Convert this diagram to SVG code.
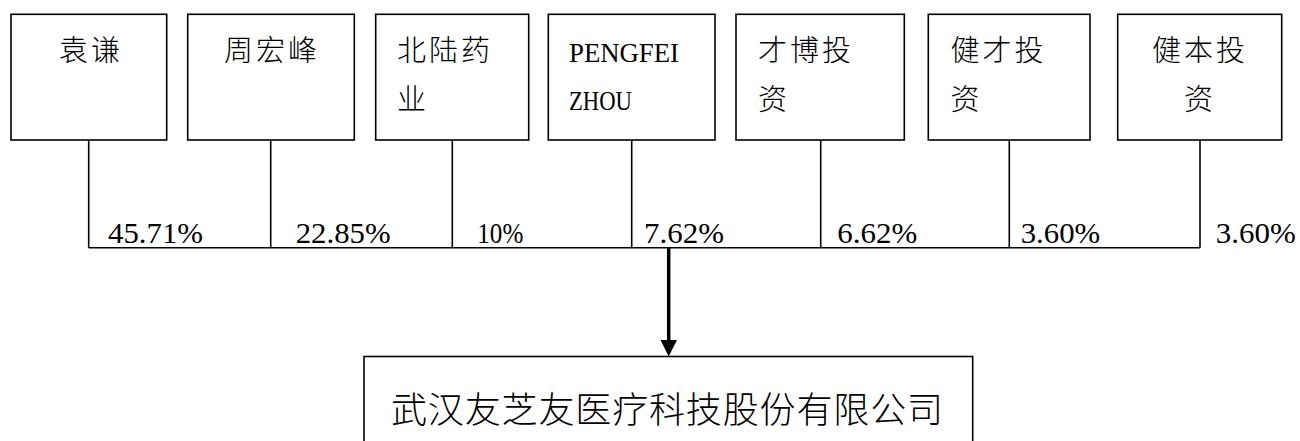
<svg xmlns="http://www.w3.org/2000/svg" width="1300" height="441" viewBox="0 0 1300 441">
<style>
.box{fill:#fff;stroke:#000;stroke-width:1.6}
.ln{fill:none;stroke:#000;stroke-width:1.6}
.cn{font-family:"Noto Sans CJK SC","Noto Sans CJK JP",sans-serif;font-size:29px;font-weight:300;letter-spacing:3px;fill:#000}
.lat{font-family:"Liberation Serif",serif;font-size:27px;fill:#000}
.pct{font-family:"Liberation Serif",serif;font-size:28.5px;fill:#000}
.big{font-family:"Noto Sans CJK SC","Noto Sans CJK JP",sans-serif;font-size:36px;font-weight:300;fill:#000}
</style>
<rect width="1300" height="441" fill="#fff"/>
<g id="n1"><rect class="box" x="11" y="14.3" width="155.7" height="125.7"/><text class="cn" x="59" y="61">袁谦</text></g>
<g id="n2"><rect class="box" x="187.7" y="14.3" width="166.6" height="125.7"/><text class="cn" x="224" y="61">周宏峰</text></g>
<g id="n3"><rect class="box" x="375.7" y="14.3" width="153" height="125.7"/><text class="cn" x="397" y="61">北陆药</text><text class="cn" x="397" y="109.5">业</text></g>
<g id="n4"><rect class="box" x="548.3" y="14.3" width="166.7" height="125.7"/><text class="lat" x="569" y="61.7" textLength="110" lengthAdjust="spacingAndGlyphs">PENGFEI</text><text class="lat" x="569" y="110" textLength="63" lengthAdjust="spacingAndGlyphs">ZHOU</text></g>
<g id="n5"><rect class="box" x="736" y="14.3" width="168.3" height="125.7"/><text class="cn" x="758" y="61">才博投</text><text class="cn" x="758" y="109.5">资</text></g>
<g id="n6"><rect class="box" x="928.3" y="14.3" width="161.7" height="125.7"/><text class="cn" x="950.5" y="61">健才投</text><text class="cn" x="950.5" y="109.5">资</text></g>
<g id="n7"><rect class="box" x="1117.7" y="14.3" width="164" height="125.7"/><text class="cn" x="1152" y="61">健本投</text><text class="cn" x="1184" y="109.5">资</text></g>
<g id="connectors">
<path class="ln" d="M88.7 140V247.7M270.7 140V247.7M452.3 140V247.7M631.7 140V247.7M820.7 140V247.7M1009.3 140V247.7M1200 140V247.7M88.7 247.7H1200"/>
<path d="M668.7 247.7V341" fill="none" stroke="#000" stroke-width="3.5"/>
<polygon points="660.5,340 677,340 668.7,356.5" fill="#000"/>
</g>
<g id="labels">
<text class="pct" x="108" y="242.5" textLength="95" lengthAdjust="spacingAndGlyphs">45.71%</text>
<text class="pct" x="295.7" y="242.5" textLength="95" lengthAdjust="spacingAndGlyphs">22.85%</text>
<text class="pct" x="477.3" y="242.5" textLength="46" lengthAdjust="spacingAndGlyphs">10%</text>
<text class="pct" x="644" y="242.5" textLength="80" lengthAdjust="spacingAndGlyphs">7.62%</text>
<text class="pct" x="837.3" y="242.5" textLength="80" lengthAdjust="spacingAndGlyphs">6.62%</text>
<text class="pct" x="1020.7" y="242.5" textLength="79.5" lengthAdjust="spacingAndGlyphs">3.60%</text>
<text class="pct" x="1215.7" y="242.5" textLength="80" lengthAdjust="spacingAndGlyphs">3.60%</text>
</g>
<g id="company"><rect class="box" x="364" y="356.5" width="608.7" height="120"/><text class="big" x="391" y="422.5" textLength="552" lengthAdjust="spacing">武汉友芝友医疗科技股份有限公司</text></g>
</svg>
